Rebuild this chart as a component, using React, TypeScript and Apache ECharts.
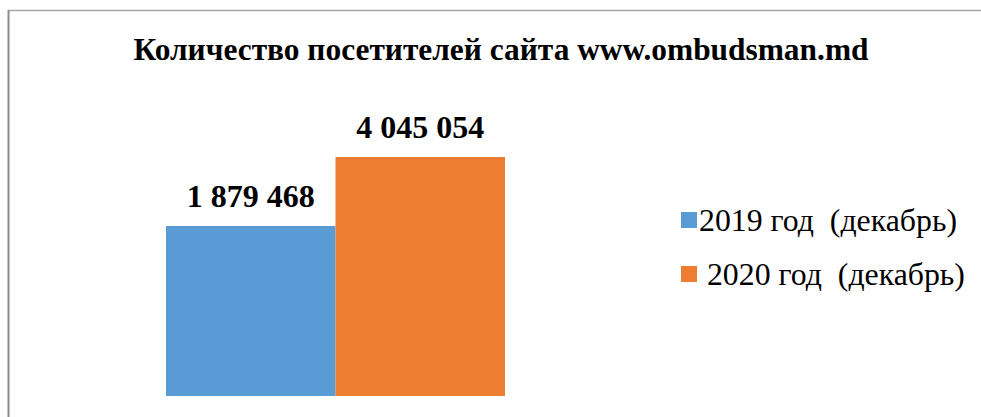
import React, { useEffect, useRef } from "react";
import * as echarts from "echarts";

const titleText = "Количество посетителей сайта www.ombudsman.md";
const categories = ["Посетители"];
const seriesNames = ["2019 год  (декабрь)", " 2020 год  (декабрь)"];
const values2019 = [1879468];
const values2020 = [4045054];
const colors = ["#5B9BD5", "#ED7D31"];

const fmt = (v: number) => String(v).replace(/\B(?=(\d{3})+(?!\d))/g, " ");

export default function App() {
  const ref = useRef<HTMLDivElement>(null);
  useEffect(() => {
    if (!ref.current) return;
    const chart = echarts.init(ref.current, null, { renderer: "svg" });
    const font = "'Liberation Serif', 'Times New Roman', serif";
    const label = {
      show: true,
      position: "top",
      distance: 14,
      formatter: (p: any) => fmt(p.value),
      fontFamily: font,
      fontSize: 32,
      fontWeight: "bold",
      color: "#000",
    };
    chart.setOption({
      animation: false,
      backgroundColor: "#ffffff",
      title: {
        text: titleText,
        left: 496,
        textAlign: "center",
        top: 29,
        textStyle: { fontFamily: font, fontSize: 31.4, fontWeight: "bold", color: "#000" },
      },
      legend: {
        orient: "vertical",
        left: 676,
        top: 199,
        itemWidth: 16,
        itemHeight: 16,
        itemGap: 22,
        icon: "rect",
        textStyle: { fontFamily: font, fontSize: 31.8, color: "#000", lineHeight: 30, padding: [0, 0, 0, -3] },
        data: seriesNames,
      },
      grid: { left: 166, width: 339, top: 100, height: 296 },
      xAxis: {
        type: "category",
        data: categories,
        show: false,
      },
      yAxis: {
        type: "value",
        min: -3456000,
        max: 5834000,
        startValue: -3456000,
        show: false,
        splitLine: { show: false },
      },
      graphic: [
        { type: "line", shape: { x1: 8, y1: 10.5, x2: 981, y2: 10.5 }, style: { stroke: "#a6a6a6", lineWidth: 1.5 } },
        { type: "line", shape: { x1: 8.5, y1: 10, x2: 8.5, y2: 417 }, style: { stroke: "#8c8c8c", lineWidth: 2 } },
      ],
      series: [
        {
          name: seriesNames[0],
          type: "bar",
          data: values2019,
          barGap: "0%",
          barCategoryGap: "0%",
          itemStyle: { color: colors[0] },
          label,
        },
        {
          name: seriesNames[1],
          type: "bar",
          data: values2020,
          barGap: "0%",
          barCategoryGap: "0%",
          itemStyle: { color: colors[1] },
          label,
        },
      ],
    });
    return () => chart.dispose();
  }, []);
  return (
    <div
      ref={ref}
      style={{ position: "fixed", left: 0, top: 0, width: 981, height: 417, background: "#fff" }}
    />
  );
}
